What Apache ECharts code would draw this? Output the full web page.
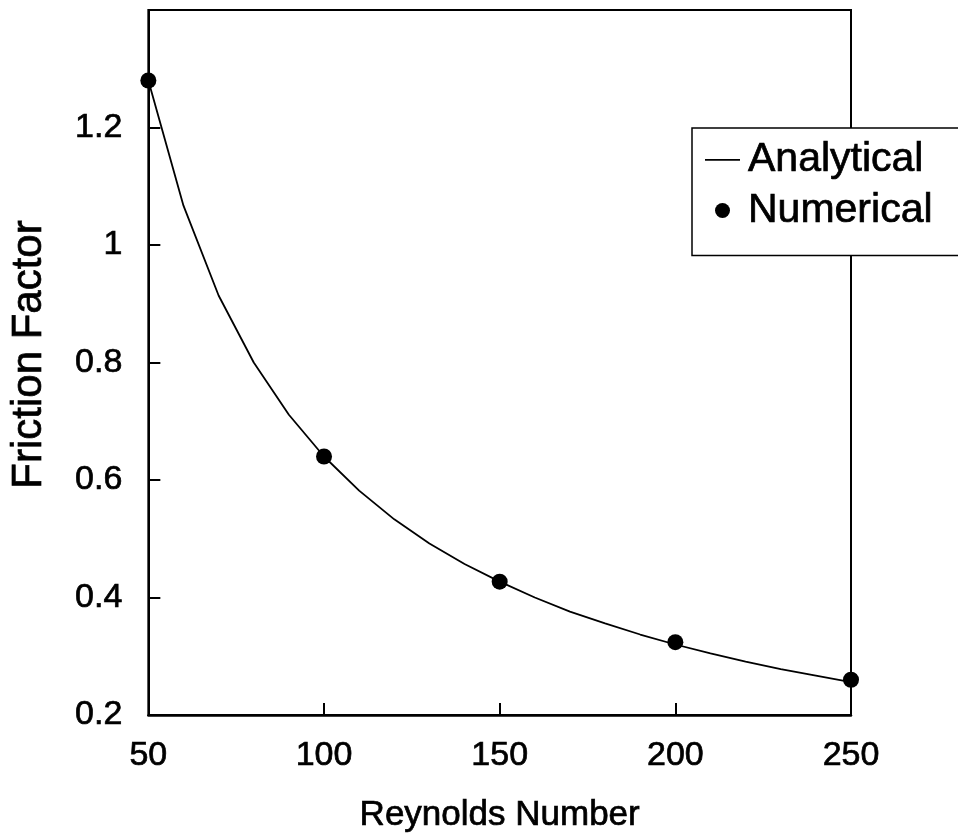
<!DOCTYPE html>
<html>
<head>
<meta charset="utf-8">
<title>Friction Factor vs Reynolds Number</title>
<script src="https://cdn.jsdelivr.net/npm/echarts@6/dist/echarts.min.js"></script>
<style>
  html, body { margin: 0; padding: 0; background: #ffffff; }
  #chart { width: 958px; height: 840px; }
</style>
</head>
<body>
<div id="chart"></div>
<script>
// Analytical curve, sampled every 10 units of Reynolds number
var analyticalRe = [50, 60, 70, 80, 90, 100, 110, 120, 130, 140, 150,
                    160, 170, 180, 190, 200, 210, 220, 230, 240, 250];
var analyticalF  = [1.28, 1.067, 0.914, 0.8, 0.711, 0.64, 0.582, 0.533, 0.492, 0.457, 0.427,
                    0.4, 0.376, 0.356, 0.337, 0.32, 0.305, 0.291, 0.278, 0.267, 0.256];

// Numerical results
var numericalRe = [50, 100, 150, 200, 250];
var numericalF  = [1.28, 0.64, 0.427, 0.324, 0.26];

// Axis ranges and tick spacing
var xTicks = [50, 100, 150, 200, 250];
var yMin = 0.2, yMax = 1.4, yStep = 0.2;

var FONT = '"Liberation Sans", Arial, Helvetica, sans-serif';
// a thin outline in the text colour gives the heavier, printed look
var INK = { color: '#000', textBorderColor: '#000', textBorderWidth: 0.7 };

function pairs(xs, ys) {
  return xs.map(function (x, i) { return [x, ys[i]]; });
}

function textStyle(size, extra) {
  var s = { fontFamily: FONT, fontSize: size };
  for (var k in INK) s[k] = INK[k];
  for (var k2 in (extra || {})) s[k2] = extra[k2];
  return s;
}

var chart = echarts.init(document.getElementById('chart'), null, { renderer: 'canvas' });

chart.setOption({
  backgroundColor: '#ffffff',
  animation: false,
  grid: {
    left: 145, right: 107, top: 10, bottom: 125,
    show: true, borderColor: '#000', borderWidth: 2, backgroundColor: 'transparent'
  },
  legend: {
    left: 692, top: 128,
    orient: 'vertical',
    backgroundColor: '#ffffff',
    borderColor: '#000', borderWidth: 1.5, borderRadius: 0,
    padding: [11, 60, 24, 13],
    itemWidth: 35, itemHeight: 15, itemGap: 9,
    textStyle: textStyle(41, { padding: [0, 0, 0, 3] }),
    data: [
      { name: 'Analytical', icon: 'path://M0,0 L35,0 L35,1.6 L0,1.6 Z' },
      { name: 'Numerical', icon: 'circle' }
    ],
    selectedMode: false
  },
  xAxis: {
    type: 'value', min: xTicks[0], max: xTicks[xTicks.length - 1], interval: 50,
    name: 'Reynolds Number', nameLocation: 'middle', nameGap: 83,
    nameTextStyle: textStyle(35),
    axisLine: { show: true, lineStyle: { color: '#000', width: 2.5 } },
    axisTick: { show: true, inside: true, length: 12, lineStyle: { color: '#000', width: 2 } },
    axisLabel: textStyle(34, { margin: 24 }),
    splitLine: { show: false }
  },
  yAxis: {
    type: 'value', min: yMin, max: yMax, interval: yStep,
    name: 'Friction Factor', nameLocation: 'middle', nameGap: 98,
    nameTextStyle: textStyle(42, { padding: [0, 0, 0, 16] }),
    axisLine: { show: true, lineStyle: { color: '#000', width: 2 } },
    axisTick: { show: true, inside: true, length: 12, lineStyle: { color: '#000', width: 2 } },
    axisLabel: textStyle(34, {
      margin: 26,
      showMaxLabel: false,
      formatter: function (v) { return String(Math.round(v * 10) / 10); }
    }),
    splitLine: { show: false }
  },
  series: [
    {
      name: 'Analytical', type: 'line',
      data: pairs(analyticalRe, analyticalF),
      symbol: 'none', smooth: false, clip: false,
      lineStyle: { color: '#000', width: 1.8 },
      itemStyle: { color: '#000' }
    },
    {
      name: 'Numerical', type: 'scatter',
      data: pairs(numericalRe, numericalF),
      symbol: 'circle', symbolSize: 16, clip: false,
      itemStyle: { color: '#000', opacity: 1 },
      z: 3
    }
  ]
});
</script>
</body>
</html>
